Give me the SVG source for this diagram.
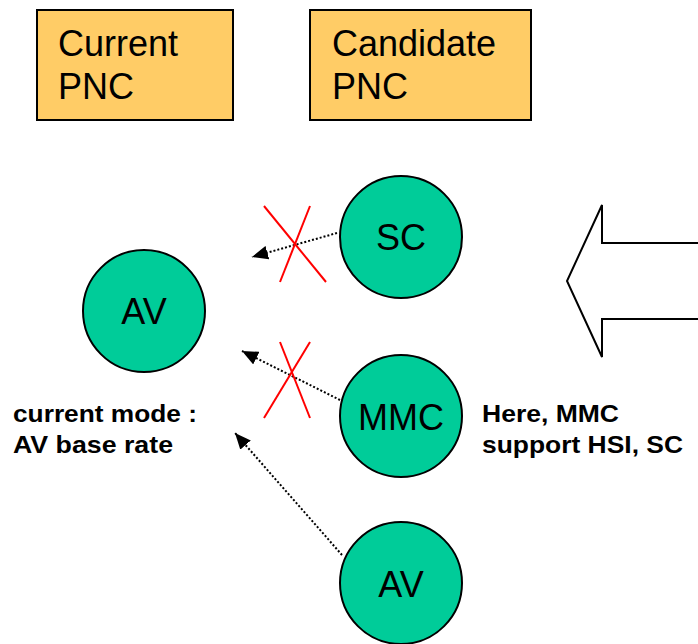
<svg xmlns="http://www.w3.org/2000/svg" width="698" height="644" viewBox="0 0 698 644">
<defs>
<style>
.box{fill:#FFCC66;stroke:#000;stroke-width:2}
.node{fill:#00CC99;stroke:#000;stroke-width:2}
.t{font-family:"Liberation Sans",Arial,sans-serif;font-size:36px;fill:#000}
.b{font-family:"Liberation Sans",Arial,sans-serif;font-size:24px;font-weight:bold;fill:#000}
.dot{fill:none;stroke:#000;stroke-width:2;stroke-dasharray:2,2;marker-end:url(#ah)}
.x{stroke:#FF0000;stroke-width:2}
</style>
<marker id="ah" viewBox="0 0 16 14" refX="16" refY="7" markerWidth="16" markerHeight="14" markerUnits="userSpaceOnUse" orient="auto">
<path d="M0,0 L16,7 L0,14 z" fill="#000"/>
</marker>
</defs>
<g id="current-pnc">
<rect class="box" x="37" y="10" width="196" height="110"/>
<text class="t" x="58" y="56">Current</text>
<text class="t" x="58" y="99">PNC</text>
</g>
<g id="candidate-pnc">
<rect class="box" x="310" y="10" width="221" height="110"/>
<text class="t" x="332" y="56">Candidate</text>
<text class="t" x="332" y="99">PNC</text>
</g>
<g id="connectors">
<line class="dot" x1="337" y1="233" x2="252" y2="257"/>
<line class="dot" x1="340" y1="400" x2="242" y2="351"/>
<line class="dot" x1="342" y1="555" x2="235" y2="433"/>
</g>
<g id="cross-sc">
<line class="x" x1="264" y1="206" x2="326" y2="282"/>
<line class="x" x1="310" y1="206" x2="280" y2="282"/>
</g>
<g id="cross-mmc">
<line class="x" x1="280" y1="342" x2="310" y2="418"/>
<line class="x" x1="310" y1="342" x2="264" y2="418"/>
</g>
<g id="av-current">
<circle class="node" cx="144" cy="311" r="61"/>
<text class="t" x="144" y="324" text-anchor="middle">AV</text>
</g>
<g id="sc">
<circle class="node" cx="401" cy="237" r="61"/>
<text class="t" x="401" y="250" text-anchor="middle">SC</text>
</g>
<g id="mmc">
<circle class="node" cx="401" cy="416" r="61"/>
<text class="t" x="401" y="430" text-anchor="middle">MMC</text>
</g>
<g id="av-candidate">
<circle class="node" cx="401" cy="583" r="61"/>
<text class="t" x="401" y="597" text-anchor="middle">AV</text>
</g>
<g id="big-arrow">
<path d="M698,243 L602,243 L602,205 L567,281 L602,357 L602,319 L698,319" fill="#fff" stroke="#000" stroke-width="2"/>
</g>
<g id="labels">
<text class="b" x="13" y="422" textLength="184" lengthAdjust="spacingAndGlyphs">current mode :</text>
<text class="b" x="13" y="453" textLength="160" lengthAdjust="spacingAndGlyphs">AV base rate</text>
<text class="b" x="482" y="422" textLength="137" lengthAdjust="spacingAndGlyphs">Here, MMC</text>
<text class="b" x="482" y="453" textLength="201" lengthAdjust="spacingAndGlyphs">support HSI, SC</text>
</g>
</svg>
